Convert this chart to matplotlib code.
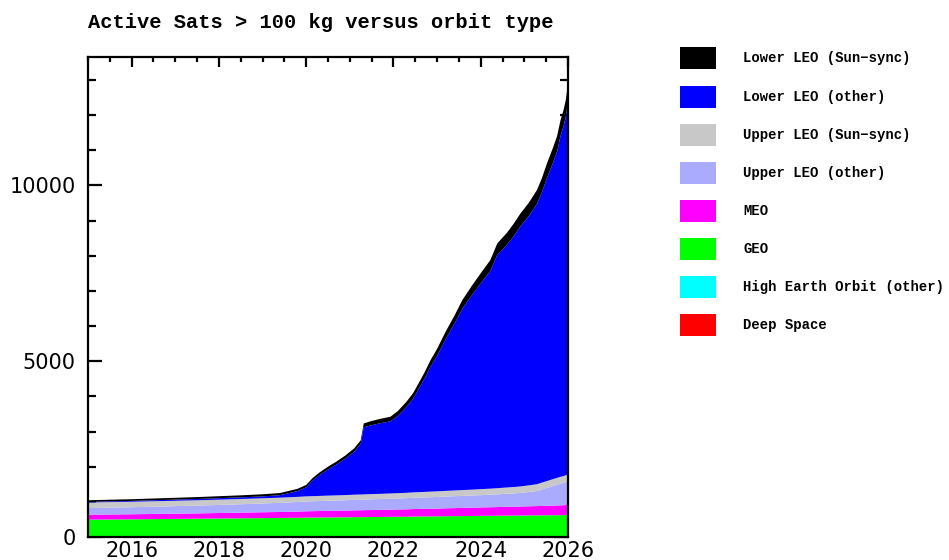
import matplotlib
matplotlib.use("Agg")
import matplotlib.pyplot as plt
from matplotlib.patches import Rectangle
from matplotlib.ticker import MultipleLocator

# ---- data ----
years = [2015.0, 2015.5, 2016.0, 2016.5, 2017.0, 2017.5, 2018.0, 2018.5, 2019.0, 2019.4,
         2019.8, 2020.0, 2020.15, 2020.3, 2020.5, 2020.7, 2020.9, 2021.1, 2021.25, 2021.32,
         2021.5, 2021.7, 2021.93, 2022.1, 2022.3, 2022.45, 2022.7, 2022.85, 2023.0, 2023.2,
         2023.4, 2023.58, 2023.8, 2024.0, 2024.22, 2024.38, 2024.6, 2024.75, 2024.91, 2025.1,
         2025.29, 2025.4, 2025.52, 2025.65, 2025.75, 2025.83, 2025.9, 2025.95, 2026.0]

deep_space = [12]*11 + [14]*18 + [16]*18 + [18]*2
high_earth_other = [10]*25 + [12]*24
geo = [470, 476, 481, 487, 493, 499, 504, 510, 516, 520, 525, 527, 529, 531, 533, 535, 537,
       540, 541, 542, 544, 546, 549, 551, 553, 555, 558, 559, 561, 563, 566, 568, 570, 573,
       575, 577, 580, 581, 583, 585, 587, 589, 590, 591, 592, 593, 594, 595, 595]
meo = [140, 142, 144, 146, 148, 150, 156, 160, 166, 170, 176, 180, 182, 184, 186, 188, 190,
       194, 196, 197, 199, 202, 205, 208, 211, 213, 217, 220, 222, 225, 228, 231, 235, 240,
       243, 246, 250, 253, 256, 260, 264, 267, 270, 274, 277, 280, 282, 284, 285]
upper_leo_other = [190, 195, 200, 207, 215, 222, 230, 240, 250, 260, 272, 280, 282, 284, 288,
                   291, 294, 298, 300, 301, 304, 307, 310, 313, 316, 320, 324, 327, 330, 334,
                   338, 342, 346, 350, 356, 362, 370, 376, 385, 405, 430, 470, 510, 555, 590,
                   615, 635, 650, 665]
upper_leo_ss = [160, 158, 156, 155, 153, 152, 150, 149, 148, 147, 146, 145, 145, 145, 146,
                146, 147, 147, 148, 148, 149, 149, 150, 151, 153, 155, 157, 159, 160, 162,
                164, 166, 168, 170, 173, 176, 180, 183, 186, 190, 192, 193, 194, 195, 195,
                196, 196, 196, 196]
lower_leo_other = [18, 21, 24, 28, 32, 36, 42, 46, 53, 69, 164, 256, 448, 587, 743, 881, 1038,
                   1222, 1441, 1908, 1960, 2007, 2052, 2193, 2443, 2661, 3193, 3554, 3851,
                   4323, 4746, 5155, 5533, 5849, 6190, 6631, 6897, 7124, 7397, 7652, 7974,
                   8248, 8623, 8977, 9278, 9698, 9955, 10205, 10649]
lower_leo_ss = [45, 46, 48, 50, 52, 54, 56, 58, 60, 62, 65, 68, 70, 75, 80, 85, 90, 95, 100,
                110, 120, 125, 130, 140, 150, 160, 175, 185, 200, 215, 230, 250, 270, 290,
                310, 330, 345, 355, 365, 380, 395, 405, 415, 430, 440, 450, 460, 470, 480]

labels = ["Lower LEO (Sun\u2212sync)", "Lower LEO (other)", "Upper LEO (Sun\u2212sync)",
          "Upper LEO (other)", "MEO", "GEO", "High Earth Orbit (other)", "Deep Space"]
colors = ["#000000", "#0000FF", "#C8C8C8", "#AAAAFF", "#FF00FF", "#00FF00", "#00FFFF", "#FF0000"]

title = "Active Sats > 100 kg versus orbit type"

# ---- figure ----
W, H = 949, 560
fig = plt.figure(figsize=(W/100, H/100), dpi=100)
ax = fig.add_axes([88/W, (H-537)/H, (568-88)/W, (537-57)/H])

stack = [deep_space, high_earth_other, geo, meo, upper_leo_other, upper_leo_ss,
         lower_leo_other, lower_leo_ss]
ax.stackplot(years, stack, colors=colors[::-1], linewidth=0)

ax.set_xlim(2015, 2026)
ax.set_ylim(0, 13650)
ax.set_axisbelow(True)

ax.xaxis.set_major_locator(MultipleLocator(2))
ax.xaxis.set_minor_locator(MultipleLocator(0.5))
ax.yaxis.set_major_locator(MultipleLocator(5000))
ax.yaxis.set_minor_locator(MultipleLocator(1000))

ax.tick_params(axis="x", which="both", direction="in", bottom=False, top=True,
               labelbottom=True, pad=3, width=1.6)
ax.tick_params(axis="x", which="major", length=7)
ax.tick_params(axis="x", which="minor", length=3.5)
ax.tick_params(axis="y", which="both", direction="in", left=True, right=True, pad=9, width=1.6)
ax.tick_params(axis="y", which="major", length=10)
ax.tick_params(axis="y", which="minor", length=6)
for lab in ax.get_xticklabels() + ax.get_yticklabels():
    lab.set_fontfamily("DejaVu Sans")
    lab.set_fontsize(15)
for sp in ax.spines.values():
    sp.set_linewidth(1.6)

fig.text(88/W, 1-23/H, title, ha="left", va="center", family="Liberation Mono",
         fontsize=14.7, fontweight="bold")

# legend
rows_y = [58, 97, 135, 173, 211, 249, 287, 325]
for lab, col, yc in zip(labels, colors, rows_y):
    fig.patches.append(Rectangle((680/W, 1-(yc+11)/H), 36/W, 22/H, transform=fig.transFigure,
                                 facecolor=col, edgecolor="none", figure=fig))
    fig.text(743/W, 1-yc/H, lab, ha="left", va="center", family="Liberation Mono",
             fontsize=10, fontweight="bold")

fig.savefig("out.png", dpi=100)
